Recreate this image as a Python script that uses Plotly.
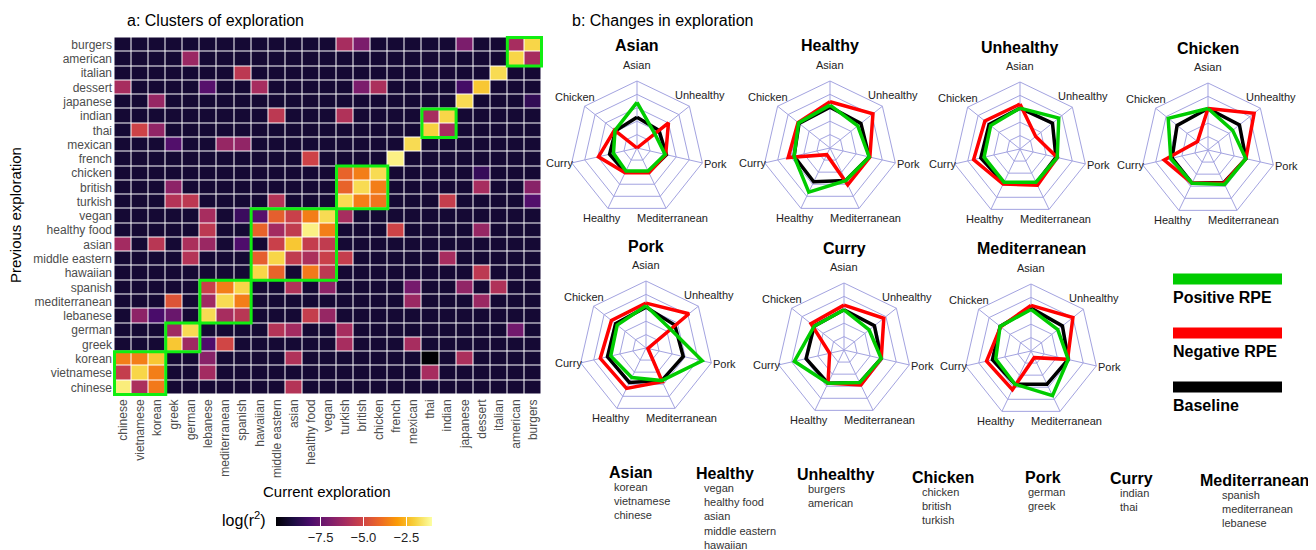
import plotly.graph_objects as go

# the page has an 8px body margin, so the figure is drawn 8px smaller and shifted
PAGE_W, PAGE_H, PAD = 1316, 550, 8
W, H = PAGE_W - PAD, PAGE_H - PAD

# ---- panel a: heatmap data ----
cols = ["chinese", "vietnamese", "korean", "greek", "german", "lebanese", "mediterranean",
        "spanish", "hawaiian", "middle eastern", "asian", "healthy food", "vegan", "turkish",
        "british", "chicken", "french", "mexican", "thai", "indian", "japanese", "dessert",
        "italian", "american", "burgers"]
rows = ["burgers", "american", "italian", "dessert", "japanese", "indian", "thai", "mexican",
        "french", "chicken", "british", "turkish", "vegan", "healthy food", "asian",
        "middle eastern", "hawaiian", "spanish", "mediterranean", "lebanese", "german",
        "greek", "korean", "vietnamese", "chinese"]
background = -9.3
cells = [
    ("burgers", "turkish", -6.0), ("burgers", "british", -7.0), ("burgers", "japanese", -7.0),
    ("burgers", "american", -6.0), ("burgers", "burgers", -1.9),
    ("american", "german", -6.3), ("american", "american", -1.9), ("american", "burgers", -6.0),
    ("italian", "spanish", -5.5), ("italian", "italian", -1.8),
    ("dessert", "chinese", -6.0), ("dessert", "lebanese", -7.8), ("dessert", "hawaiian", -6.0),
    ("dessert", "british", -7.0), ("dessert", "chicken", -5.9), ("dessert", "japanese", -8.2),
    ("dessert", "dessert", -2.2),
    ("japanese", "korean", -6.4), ("japanese", "japanese", -1.8), ("japanese", "burgers", -8.6),
    ("indian", "middle eastern", -5.5), ("indian", "turkish", -5.8), ("indian", "thai", -6.0),
    ("indian", "indian", -1.9),
    ("thai", "vietnamese", -5.1), ("thai", "korean", -6.5), ("thai", "thai", -2.0),
    ("thai", "indian", -6.0),
    ("mexican", "greek", -7.9), ("mexican", "mediterranean", -6.4), ("mexican", "spanish", -6.5),
    ("mexican", "mexican", -1.8),
    ("french", "healthy food", -5.1), ("french", "french", -1.3),
    ("chicken", "turkish", -4.2), ("chicken", "british", -3.6), ("chicken", "chicken", -1.8),
    ("chicken", "dessert", -8.5),
    ("british", "greek", -6.6), ("british", "turkish", -4.2), ("british", "british", -1.8),
    ("british", "chicken", -3.6), ("british", "dessert", -6.0), ("british", "burgers", -6.7),
    ("turkish", "greek", -5.7), ("turkish", "german", -5.5), ("turkish", "middle eastern", -5.7),
    ("turkish", "turkish", -1.8), ("turkish", "british", -3.6), ("turkish", "chicken", -3.8),
    ("turkish", "indian", -5.3), ("turkish", "burgers", -7.9),
    ("vegan", "lebanese", -6.0), ("vegan", "spanish", -8.4), ("vegan", "hawaiian", -7.8),
    ("vegan", "middle eastern", -4.3), ("vegan", "asian", -5.2), ("vegan", "healthy food", -3.6),
    ("vegan", "vegan", -1.8), ("vegan", "turkish", -6.0),
    ("healthy food", "lebanese", -5.5), ("healthy food", "hawaiian", -4.2),
    ("healthy food", "middle eastern", -6.1), ("healthy food", "asian", -5.4),
    ("healthy food", "healthy food", -1.3), ("healthy food", "vegan", -3.6),
    ("healthy food", "french", -5.1), ("healthy food", "dessert", -6.4),
    ("asian", "chinese", -6.1), ("asian", "korean", -5.6), ("asian", "german", -5.9),
    ("asian", "lebanese", -6.3), ("asian", "spanish", -8.0), ("asian", "middle eastern", -5.2),
    ("asian", "asian", -2.2), ("asian", "healthy food", -5.3), ("asian", "vegan", -5.4),
    ("middle eastern", "german", -5.7), ("middle eastern", "hawaiian", -4.3),
    ("middle eastern", "middle eastern", -1.9), ("middle eastern", "asian", -5.4),
    ("middle eastern", "healthy food", -5.9), ("middle eastern", "vegan", -5.2),
    ("middle eastern", "turkish", -5.3), ("middle eastern", "indian", -6.0),
    ("hawaiian", "hawaiian", -1.9), ("hawaiian", "middle eastern", -4.2),
    ("hawaiian", "healthy food", -3.7), ("hawaiian", "vegan", -5.5), ("hawaiian", "dessert", -5.5),
    ("spanish", "lebanese", -5.2), ("spanish", "mediterranean", -3.6), ("spanish", "spanish", -1.9),
    ("spanish", "asian", -5.8), ("spanish", "vegan", -6.6), ("spanish", "mexican", -7.1),
    ("spanish", "japanese", -6.5), ("spanish", "italian", -5.8),
    ("mediterranean", "greek", -4.6), ("mediterranean", "lebanese", -6.2),
    ("mediterranean", "mediterranean", -1.8), ("mediterranean", "spanish", -3.6),
    ("mediterranean", "mexican", -6.3), ("mediterranean", "dessert", -6.3),
    ("lebanese", "vietnamese", -6.6), ("lebanese", "korean", -8.1), ("lebanese", "greek", -7.4),
    ("lebanese", "lebanese", -1.8), ("lebanese", "mediterranean", -6.0),
    ("lebanese", "spanish", -5.6), ("lebanese", "healthy food", -5.3), ("lebanese", "vegan", -6.4),
    ("german", "greek", -6.2), ("german", "german", -1.8), ("german", "middle eastern", -5.7),
    ("german", "asian", -6.1), ("german", "turkish", -6.0), ("german", "american", -7.2),
    ("greek", "greek", -2.2), ("greek", "german", -6.2), ("greek", "lebanese", -8.0),
    ("greek", "mediterranean", -5.0), ("greek", "turkish", -6.0), ("greek", "mexican", -6.0),
    ("korean", "chinese", -3.6), ("korean", "vietnamese", -3.6), ("korean", "korean", -2.2),
    ("korean", "lebanese", -6.7), ("korean", "asian", -5.8), ("korean", "thai", -10.1),
    ("korean", "japanese", -5.9),
    ("vietnamese", "chinese", -5.3), ("vietnamese", "vietnamese", -1.9),
    ("vietnamese", "korean", -3.6), ("vietnamese", "lebanese", -6.1), ("vietnamese", "thai", -6.0),
    ("chinese", "chinese", -1.4), ("chinese", "vietnamese", -5.9), ("chinese", "korean", -3.7),
    ("chinese", "asian", -5.7),
]

clusters = {
    "Asian": ["korean", "vietnamese", "chinese"],
    "Healthy": ["vegan", "healthy food", "asian", "middle eastern", "hawaiian"],
    "Unhealthy": ["burgers", "american"],
    "Chicken": ["chicken", "british", "turkish"],
    "Pork": ["german", "greek"],
    "Curry": ["indian", "thai"],
    "Mediterranean": ["spanish", "mediterranean", "lebanese"],
}

# ---- panel b: radar data ----
spokes = ["Asian", "Unhealthy", "Pork", "Mediterranean", "Healthy", "Curry", "Chicken"]
charts = ["Asian", "Healthy", "Unhealthy", "Chicken", "Pork", "Curry", "Mediterranean"]
baseline = {
    "Asian": [0.46, 0.42, 0.45, 0.40, 0.40, 0.42, 0.41],
    "Healthy": [0.61, 0.59, 0.60, 0.54, 0.56, 0.55, 0.59],
    "Unhealthy": [0.61, 0.62, 0.55, 0.56, 0.56, 0.60, 0.59],
    "Chicken": [0.62, 0.60, 0.58, 0.54, 0.55, 0.55, 0.59],
    "Pork": [0.61, 0.55, 0.57, 0.54, 0.57, 0.59, 0.58],
    "Curry": [0.60, 0.58, 0.57, 0.54, 0.55, 0.58, 0.57],
    "Mediterranean": [0.64, 0.60, 0.57, 0.55, 0.55, 0.59, 0.59],
}
negative = {
    "Asian": [0.0, 0.60, 0.44, 0.41, 0.41, 0.59, 0.43],
    "Healthy": [0.69, 0.82, 0.61, 0.61, 0.11, 0.64, 0.61],
    "Unhealthy": [0.67, 0.30, 0.57, 0.60, 0.58, 0.71, 0.67],
    "Chicken": [0.62, 0.88, 0.58, 0.55, 0.55, 0.67, 0.20],
    "Pork": [0.67, 0.82, 0.03, 0.56, 0.67, 0.70, 0.66],
    "Curry": [0.67, 0.76, 0.57, 0.58, 0.55, 0.22, 0.63],
    "Mediterranean": [0.68, 0.80, 0.56, 0.11, 0.64, 0.68, 0.58],
}
positive = {
    "Asian": [0.68, 0.34, 0.43, 0.38, 0.38, 0.36, 0.42],
    "Healthy": [0.64, 0.53, 0.60, 0.54, 0.73, 0.55, 0.60],
    "Unhealthy": [0.61, 0.74, 0.57, 0.55, 0.55, 0.55, 0.56],
    "Chicken": [0.62, 0.47, 0.58, 0.57, 0.55, 0.57, 0.76],
    "Pork": [0.63, 0.46, 0.86, 0.54, 0.49, 0.54, 0.55],
    "Curry": [0.60, 0.48, 0.57, 0.54, 0.55, 0.76, 0.57],
    "Mediterranean": [0.62, 0.51, 0.57, 0.74, 0.55, 0.54, 0.59],
}

# layout positions (page pixels)
centers = [(637, 148), (830, 148), (1020, 149), (1208, 150), (646, 348), (844, 350), (1031, 351)]
R = 67
label_off = [(0, -83), (63, -53), (78, 16), (35, 70), (-35, 70), (-78, 15), (-62, -51)]
list_x = [607, 694, 795, 910, 1023, 1108, 1198]
list_y = [472, 473, 474, 477, 477, 478, 480]
item_dx = [5, 8, 11, 10, 3, 10, 22]

FONT = "Liberation Sans, Arial, sans-serif"
GRID = "#a3a3e0"


def px(x):
    return (x - PAD) / W


def py(y):
    return 1 - (y - PAD) / H


def note(x, y, text, size, color="black", xanchor="center", **kw):
    return dict(x=px(x), y=py(y), xref="paper", yref="paper", xanchor=xanchor,
                yanchor="middle", text=text, showarrow=False,
                font=dict(family=FONT, size=size, color=color), **kw)


z = [[background] * len(cols) for _ in rows]
for r, c, v in cells:
    z[rows.index(r)][cols.index(c)] = v

fig = go.Figure()
fig.add_trace(go.Heatmap(
    z=z, x=cols, y=rows, zmin=-10.1, zmax=-1.0, colorscale="Inferno",
    xgap=1, ygap=1, hoverongaps=False,
    colorbar=dict(orientation="h", x=px(354), xanchor="center", y=py(517), yanchor="top",
                  ypad=0, xpad=0,
                  len=156, lenmode="pixels", thickness=9, outlinewidth=0,
                  tickvals=[-7.5, -5.0, -2.5], ticktext=["\u22127.5", "\u22125.0", "\u22122.5"],
                  ticks="inside", ticklen=9, tickcolor="white",
                  tickfont=dict(family=FONT, size=13, color="#222")),
))

shapes = []
for name, members in clusters.items():
    ci = [cols.index(m) for m in members]
    ri = [rows.index(m) for m in members]
    shapes.append(dict(type="rect", xref="x", yref="y",
                       x0=min(ci) - 0.5, x1=max(ci) + 0.5, y0=min(ri) - 0.5, y1=max(ri) + 0.5,
                       line=dict(color="#11ee11", width=3), fillcolor="rgba(0,0,0,0)"))

# radar charts
series = [(baseline, "black"), (negative, "#ff0000"), (positive, "#00cc00")]
layout_polars = {}
annotations = []
for k, name in enumerate(charts):
    cx, cy = centers[k]
    pid = "polar" if k == 0 else f"polar{k + 1}"
    for data, color in series:
        vals = data[name]
        fig.add_trace(go.Scatterpolar(
            r=vals + vals[:1], theta=spokes + spokes[:1], mode="lines",
            line=dict(color=color, width=3.5), subplot=pid, showlegend=False))
    layout_polars[pid] = dict(
        domain=dict(x=[px(cx - R), px(cx + R)], y=[py(cy + R), py(cy - R)]),
        bgcolor="white", gridshape="linear",
        angularaxis=dict(rotation=90, direction="clockwise", gridcolor=GRID, linecolor=GRID,
                         linewidth=1, ticks="", showticklabels=False),
        radialaxis=dict(range=[0, 1], tickvals=[0.2, 0.4, 0.6, 0.8, 1.0], showticklabels=False,
                        ticks="", showline=False, gridcolor=GRID, gridwidth=1),
    )
    annotations.append(note(cx, cy - 102, f"<b>{name}</b>", 16))
    for s, (dx, dy) in zip(spokes, label_off):
        annotations.append(note(cx + dx, cy + dy, s, 11, "#222"))

# legend bars
legend_items = [("Positive RPE", "#00cc00", 279), ("Negative RPE", "#ff0000", 333), ("Baseline", "black", 387)]
for label, color, yb in legend_items:
    shapes.append(dict(type="rect", xref="paper", yref="paper", x0=px(1173), x1=px(1282),
                       y0=py(yb + 5.5), y1=py(yb - 5.5), fillcolor=color, line=dict(width=0)))
    annotations.append(note(1171, yb + 18, f"<b>{label}</b>", 16, xanchor="left"))

# cluster lists
for k, (name, members) in enumerate(clusters.items()):
    annotations.append(note(list_x[k], list_y[k], f"<b>{name}</b>", 16, xanchor="left"))
    for j, m in enumerate(members):
        annotations.append(note(list_x[k] + item_dx[k], list_y[k] + 15 + 14.2 * j, m, 11,
                                "#333", xanchor="left"))

# titles
annotations += [
    note(125, 20, "a: Clusters of exploration", 16, xanchor="left"),
    note(570, 20, "b: Changes in exploration", 16, xanchor="left"),
    note(15, 215, "Previous exploration", 15, textangle=-90),
    note(327, 491, "Current exploration", 15),
    note(268, 519, "log(r<sup>2</sup>)", 16, xanchor="right"),
]

fig.update_layout(
    width=W, height=H, margin=dict(l=0, r=0, t=0, b=0, autoexpand=False),
    paper_bgcolor="white", plot_bgcolor="white",
    xaxis=dict(domain=[px(113), px(543)], tickangle=-90, showgrid=False, zeroline=False,
               automargin=False, dtick=1, ticks="",
               tickfont=dict(family=FONT, size=12, color="#4d4d4d")),
    yaxis=dict(domain=[py(396), py(36)], autorange="reversed", showgrid=False, zeroline=False,
               automargin=False, dtick=1, ticks="",
               tickfont=dict(family=FONT, size=12, color="#4d4d4d")),
    shapes=shapes, annotations=annotations, showlegend=False,
    **layout_polars,
)

fig.write_html("out.html")
